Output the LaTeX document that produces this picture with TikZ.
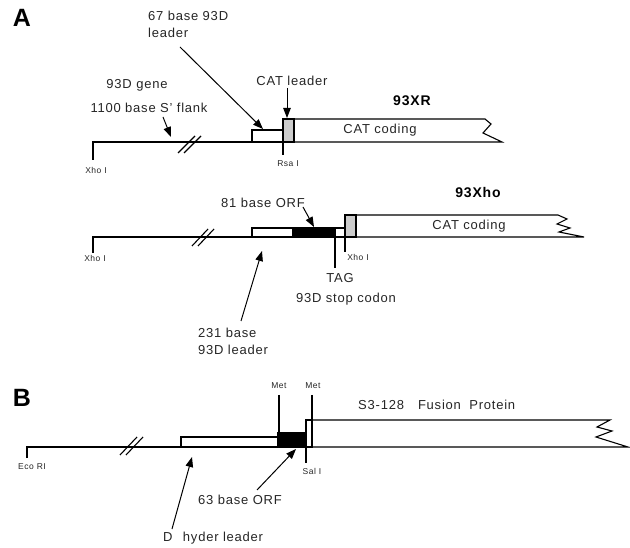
\documentclass[tikz,border=0pt]{standalone}
\usepackage{fontspec}
\setmainfont{Liberation Sans}[LetterSpace=6]
\usetikzlibrary{arrows.meta}
\begin{document}
\begin{tikzpicture}[x=1pt,y=-1pt,
  ln/.style={line width=1.1pt},
  lbl/.style={font=\fontsize{13}{17}\selectfont, inner sep=0pt, text=black!85},
  sml/.style={font=\fontsize{8.5}{10}\selectfont, inner sep=0pt, text=black!85},
  ttl/.style={font=\fontsize{14}{16}\selectfont\bfseries, inner sep=0pt},
  big/.style={font=\fontsize{25}{28}\selectfont\bfseries, inner sep=0pt},
  arr/.style={line width=1pt, -{Triangle[length=10pt,width=7.5pt]}},
  whitebox/.style={ln, fill=white},
  shadebox/.style={ln, fill=gray!40},
  orfbox/.style={ln, fill=black}]
\useasboundingbox[fill=white] (0,0) rectangle (630,548);

% ---------------- Panel A ----------------
\node[big] (lA) at (22,18) {A};

% construct 93XR
\coordinate (xhoA) at (93,160);
\draw[ln] (xhoA) -- (93,142) -- (252,142);
\draw[ln] (178,153) -- (195,136);
\draw[ln] (184,153) -- (201,136);
\draw[whitebox] (252,130) rectangle (283,142);
\draw[shadebox] (283,119) rectangle (294,142);
\draw[ln] (294,119) -- (485,119) -- (491,124) -- (483,133) -- (502,142) -- (294,142);
\coordinate (rsa) at (283,155);
\draw[ln] (283,142) -- (rsa);
\node[ttl] (t93XR) at (412,101) {93XR};
\node[lbl] (catc1) at (380,130) {CAT coding};
\node[sml] (xho1) at (96,170) {Xho I};
\node[sml] (rsa1) at (288,164) {Rsa I};

\node[lbl, align=left, anchor=west] (l67) at (148,24.5) {67 base 93D\\leader};
\coordinate (l67t) at (180,47);
\coordinate (l67h) at (263,129);
\draw[arr] (l67t) -- (l67h);

\node[lbl] (catl) at (292,81) {CAT leader};
\coordinate (catlt) at (287,88);
\coordinate (catlh) at (287,118);
\draw[arr] (catlt) -- (catlh);

\node[lbl] (gene) at (137,85) {93D gene};
\node[lbl] (flank) at (149,108) {1100 base S' flank};
\coordinate (flankt) at (163,117);
\coordinate (flankh) at (171,137);
\draw[arr] (flankt) -- (flankh);

% construct 93Xho
\draw[ln] (93,253) -- (93,237) -- (252,237);
\draw[ln] (192,246) -- (208,229);
\draw[ln] (198,246) -- (214,229);
\draw[whitebox] (252,228) rectangle (293,237);
\draw[orfbox] (293,228) rectangle (335,237);
\draw[whitebox] (335,228) rectangle (345,237);
\draw[shadebox] (345,215) rectangle (356,237);
\draw[ln] (356,215) -- (558,215) -- (567,219) -- (557,224) -- (570,228) -- (559,232) -- (584,237) -- (356,237);
\node[ttl] (t93Xho) at (478,193) {93Xho};
\node[lbl] (catc2) at (469,226) {CAT coding};
\node[sml] (xho2) at (95,258) {Xho I};
\node[sml] (xho3) at (358,257) {Xho I};
\draw[ln] (345,237) -- (345,252);
\draw[ln] (335,237) -- (335,268);
\node[lbl] (tag) at (340,278) {TAG};
\node[lbl] (stop) at (346,299) {93D stop codon};

\node[lbl] (orf81) at (263,203) {81 base ORF};
\coordinate (orf81t) at (303,207);
\coordinate (orf81h) at (314,227);
\draw[arr] (orf81t) -- (orf81h);

\node[lbl, align=left, anchor=west] (l231) at (198,341) {231 base\\93D leader};
\coordinate (l231t) at (241,321);
\coordinate (l231h) at (262,251);
\draw[arr] (l231t) -- (l231h);

% ---------------- Panel B ----------------
\node[big] (lB) at (22,398) {B};
\draw[ln] (27,458) -- (27,447) -- (181,447);
\draw[ln] (120,455) -- (137,437);
\draw[ln] (126,455) -- (143,437);
\draw[whitebox] (181,437) rectangle (278,447);
\draw[orfbox] (278,433) rectangle (306,447);
\draw[whitebox] (306,420) rectangle (312,447);
\draw[ln] (312,420) -- (610,420) -- (597,427) -- (612,431) -- (596,437) -- (628,447) -- (312,447);
\draw[ln] (279,395) -- (279,433);
\draw[ln] (312,395) -- (312,420);
\draw[ln] (306,447) -- (306,463);
\node[sml] (met1) at (279,386) {Met};
\node[sml] (met2) at (313,386) {Met};
\node[sml] (eco) at (32,467) {Eco RI};
\node[sml] (sal) at (312,471) {Sal I};
\node[lbl, anchor=west] (fus) at (358,405) {S3-128\hspace{14pt}Fusion\hspace{4pt} Protein};

\node[lbl] (orf63) at (240,500) {63 base ORF};
\coordinate (orf63t) at (257,490);
\coordinate (orf63h) at (296,449);
\draw[arr] (orf63t) -- (orf63h);

\node[lbl, anchor=west] (hyd) at (163,538) {D\hspace{6pt} hyder leader};
\coordinate (hydt) at (172,529);
\coordinate (hydh) at (192,457);
\draw[arr] (hydt) -- (hydh);
\end{tikzpicture}
\end{document}
